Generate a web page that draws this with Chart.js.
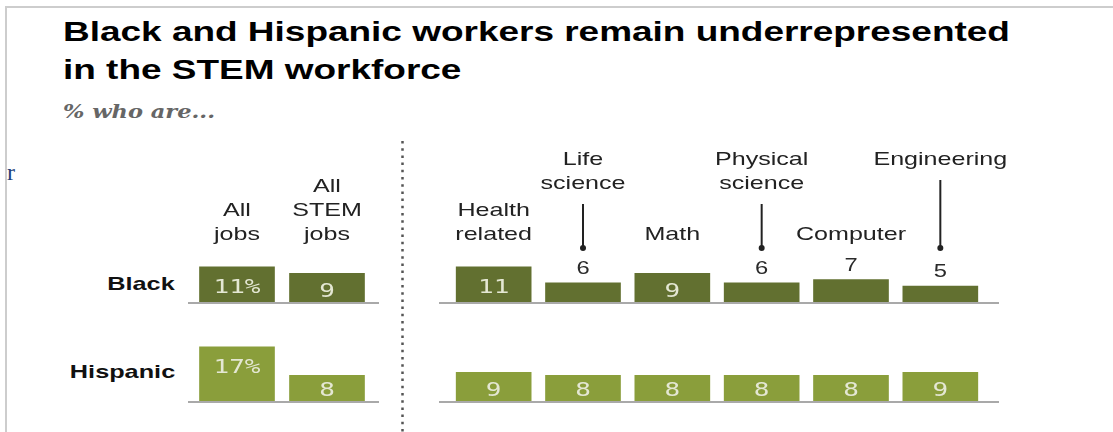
<!DOCTYPE html>
<html lang="en">
<head>
<meta charset="UTF-8">
<title>Black and Hispanic workers in STEM</title>
<script src="https://cdn.jsdelivr.net/npm/chart.js"></script>
<style>
  html, body { margin: 0; padding: 0; background: #fff; }
  body { width: 1113px; height: 432px; position: relative; overflow: hidden; font-family: "Liberation Sans", Arial, sans-serif; }
  .frame { position: absolute; left: 5px; top: 6px; width: 1200px; height: 500px; border-top: 2px solid #cdcdcd; border-left: 2px solid #cdcdcd; }
  .wide { position: absolute; white-space: nowrap; transform-origin: left top; }
  #title { left: 63px; top: 13px; font-weight: bold; font-size: 28px; line-height: 38px; color: #000; transform: scaleX(1.32); }
  #subtitle { left: 63px; top: 103px; font-family: "DejaVu Serif", serif; font-style: italic; font-weight: bold; font-size: 18px; line-height: 1; color: #666; transform: scaleX(1.25); }
  #stray { left: 7px; top: 160px; font-family: "Liberation Serif", serif; font-size: 24px; line-height: 1; color: #1e3f7a; }
  .row { position: absolute; right: 938px; font-weight: bold; font-size: 19px; line-height: 1; color: #111; white-space: nowrap; transform-origin: right top; transform: scaleX(1.33); }
  canvas { position: absolute; left: 0; top: 0; }
</style>
</head>
<body>
  <div class="frame"></div>
  <div id="title" class="wide">Black and Hispanic workers remain underrepresented<br>in the STEM workforce</div>
  <div id="subtitle" class="wide">% who are...</div>
  <div id="stray" class="wide">r</div>
  <div id="rows"></div>
  <canvas id="overallChart" width="1113" height="432"></canvas>
  <canvas id="fieldChart" width="1113" height="432"></canvas>

  <script>
    // data
    const groups = ['Black', 'Hispanic'];
    const overallCats = [['All', 'jobs'], ['All', 'STEM', 'jobs']];
    const blackOverall = [11, 9];
    const hispanicOverall = [17, 8];
    const fieldCats = [['Health', 'related'], ['Life', 'science'], ['Math'], ['Physical', 'science'], ['Computer'], ['Engineering']];
    const blackField = [11, 6, 9, 6, 7, 5];
    const hispanicField = [9, 8, 8, 8, 8, 9];

    // layout
    const W = 1113;
    const TEXT_SX = 1.32;          // the reference is stretched horizontally
    const LINE_H = 24;
    const LABEL_BOTTOM = 240;      // last line of normal category labels
    const RAISED_TOP = 165;        // first line of labels with leader lines
    const LEADER_END = 248;
    const rowTops = [274, 362];

    const rowsEl = document.getElementById('rows');
    groups.forEach((g, i) => {
      const d = document.createElement('div');
      d.className = 'row';
      d.style.top = rowTops[i] + 'px';
      d.textContent = g;
      rowsEl.appendChild(d);
    });

    const wideText = (ctx, txt, x, y, sx) => {
      ctx.save();
      ctx.translate(x, y);
      ctx.scale(sx, 1);
      ctx.fillText(txt, 0, 0);
      ctx.restore();
    };

    const decor = {
      id: 'decor',
      beforeDatasetsDraw(chart, args, o) {
        const ctx = chart.ctx, a = chart.chartArea;
        ctx.save();
        ctx.strokeStyle = '#a9a9a9';
        ctx.lineWidth = 2;
        ['yB', 'yH'].forEach(id => {
          const y = chart.scales[id].getPixelForValue(0) + 1;
          ctx.beginPath();
          ctx.moveTo(a.left - o.extL, y);
          ctx.lineTo(a.right + o.extR, y);
          ctx.stroke();
        });
        ctx.restore();
      },
      afterDatasetsDraw(chart, args, o) {
        const ctx = chart.ctx;
        const xs = chart.scales.x;
        ctx.save();
        ctx.textAlign = 'center';
        ctx.textBaseline = 'alphabetic';

        // category labels
        chart.data.labels.forEach((lines, i) => {
          const cx = xs.getPixelForValue(i);
          ctx.fillStyle = '#222';
          ctx.font = '19px "Liberation Sans", Arial, sans-serif';
          if (o.raised[i]) {
            lines.forEach((t, k) => wideText(ctx, t, cx, RAISED_TOP + k * LINE_H, TEXT_SX));
            const last = RAISED_TOP + (lines.length - 1) * LINE_H;
            ctx.strokeStyle = '#222';
            ctx.lineWidth = 2;
            ctx.beginPath();
            ctx.moveTo(cx, last + 15);
            ctx.lineTo(cx, LEADER_END);
            ctx.stroke();
            ctx.beginPath();
            ctx.arc(cx, LEADER_END, 3, 0, Math.PI * 2);
            ctx.fill();
          } else {
            lines.forEach((t, k) => wideText(ctx, t, cx, LABEL_BOTTOM - (lines.length - 1 - k) * LINE_H, TEXT_SX));
          }
        });

        // value labels
        chart.data.datasets.forEach((ds, di) => {
          chart.getDatasetMeta(di).data.forEach((bar, i) => {
            const txt = ds.data[i] + (o.pctFirst && i === 0 ? '%' : '');
            const h = bar.base - bar.y;
            if (h >= 24) {
              ctx.fillStyle = '#e4e7d3';
              ctx.font = '20px "DejaVu Sans Mono", monospace';
              wideText(ctx, txt, bar.x, Math.min(bar.y + 26, bar.base - 5), 1.3);
            } else {
              ctx.fillStyle = '#2a2a2a';
              ctx.font = '18px "Liberation Sans", Arial, sans-serif';
              wideText(ctx, txt, bar.x, bar.y - 9, TEXT_SX);
            }
          });
        });

        // dotted divider between panels
        if (o.divider) {
          ctx.strokeStyle = '#555';
          ctx.lineWidth = 2.5;
          ctx.setLineDash([2.5, 4.7]);
          ctx.beginPath();
          ctx.moveTo(o.divider, 141);
          ctx.lineTo(o.divider, 432);
          ctx.stroke();
        }
        ctx.restore();
      }
    };

    const makePanel = (id, labels, black, hispanic, area, decorOpts) => new Chart(document.getElementById(id), {
      type: 'bar',
      data: {
        labels: labels,
        datasets: [
          { label: groups[0], data: black, yAxisID: 'yB', backgroundColor: '#627030' },
          { label: groups[1], data: hispanic, yAxisID: 'yH', backgroundColor: '#8a9e3b' }
        ]
      },
      options: {
        responsive: false,
        animation: false,
        layout: { padding: { left: area.left, right: W - area.right, top: 203, bottom: 31 } },
        datasets: { bar: { grouped: false, barThickness: 75 } },
        scales: {
          x: { display: false },
          // stacked axes: the first one listed ends up at the bottom
          yH: { display: false, position: 'left', stack: 'rows', stackWeight: 1, min: 0, max: 31 },
          yB: { display: false, position: 'left', stack: 'rows', stackWeight: 1, min: 0, max: 31 }
        },
        plugins: {
          legend: { display: false },
          tooltip: { enabled: false },
          decor: decorOpts
        }
      },
      plugins: [decor]
    });

    makePanel('overallChart', overallCats, blackOverall, hispanicOverall,
      { left: 192, right: 372 },
      { raised: [false, false], pctFirst: true, extL: 4, extR: 7, divider: 402.5 });

    makePanel('fieldChart', fieldCats, blackField, hispanicField,
      { left: 449, right: 985 },
      { raised: [false, true, false, true, false, true], pctFirst: false, extL: 10, extR: 14, divider: 0 });
  </script>
</body>
</html>
